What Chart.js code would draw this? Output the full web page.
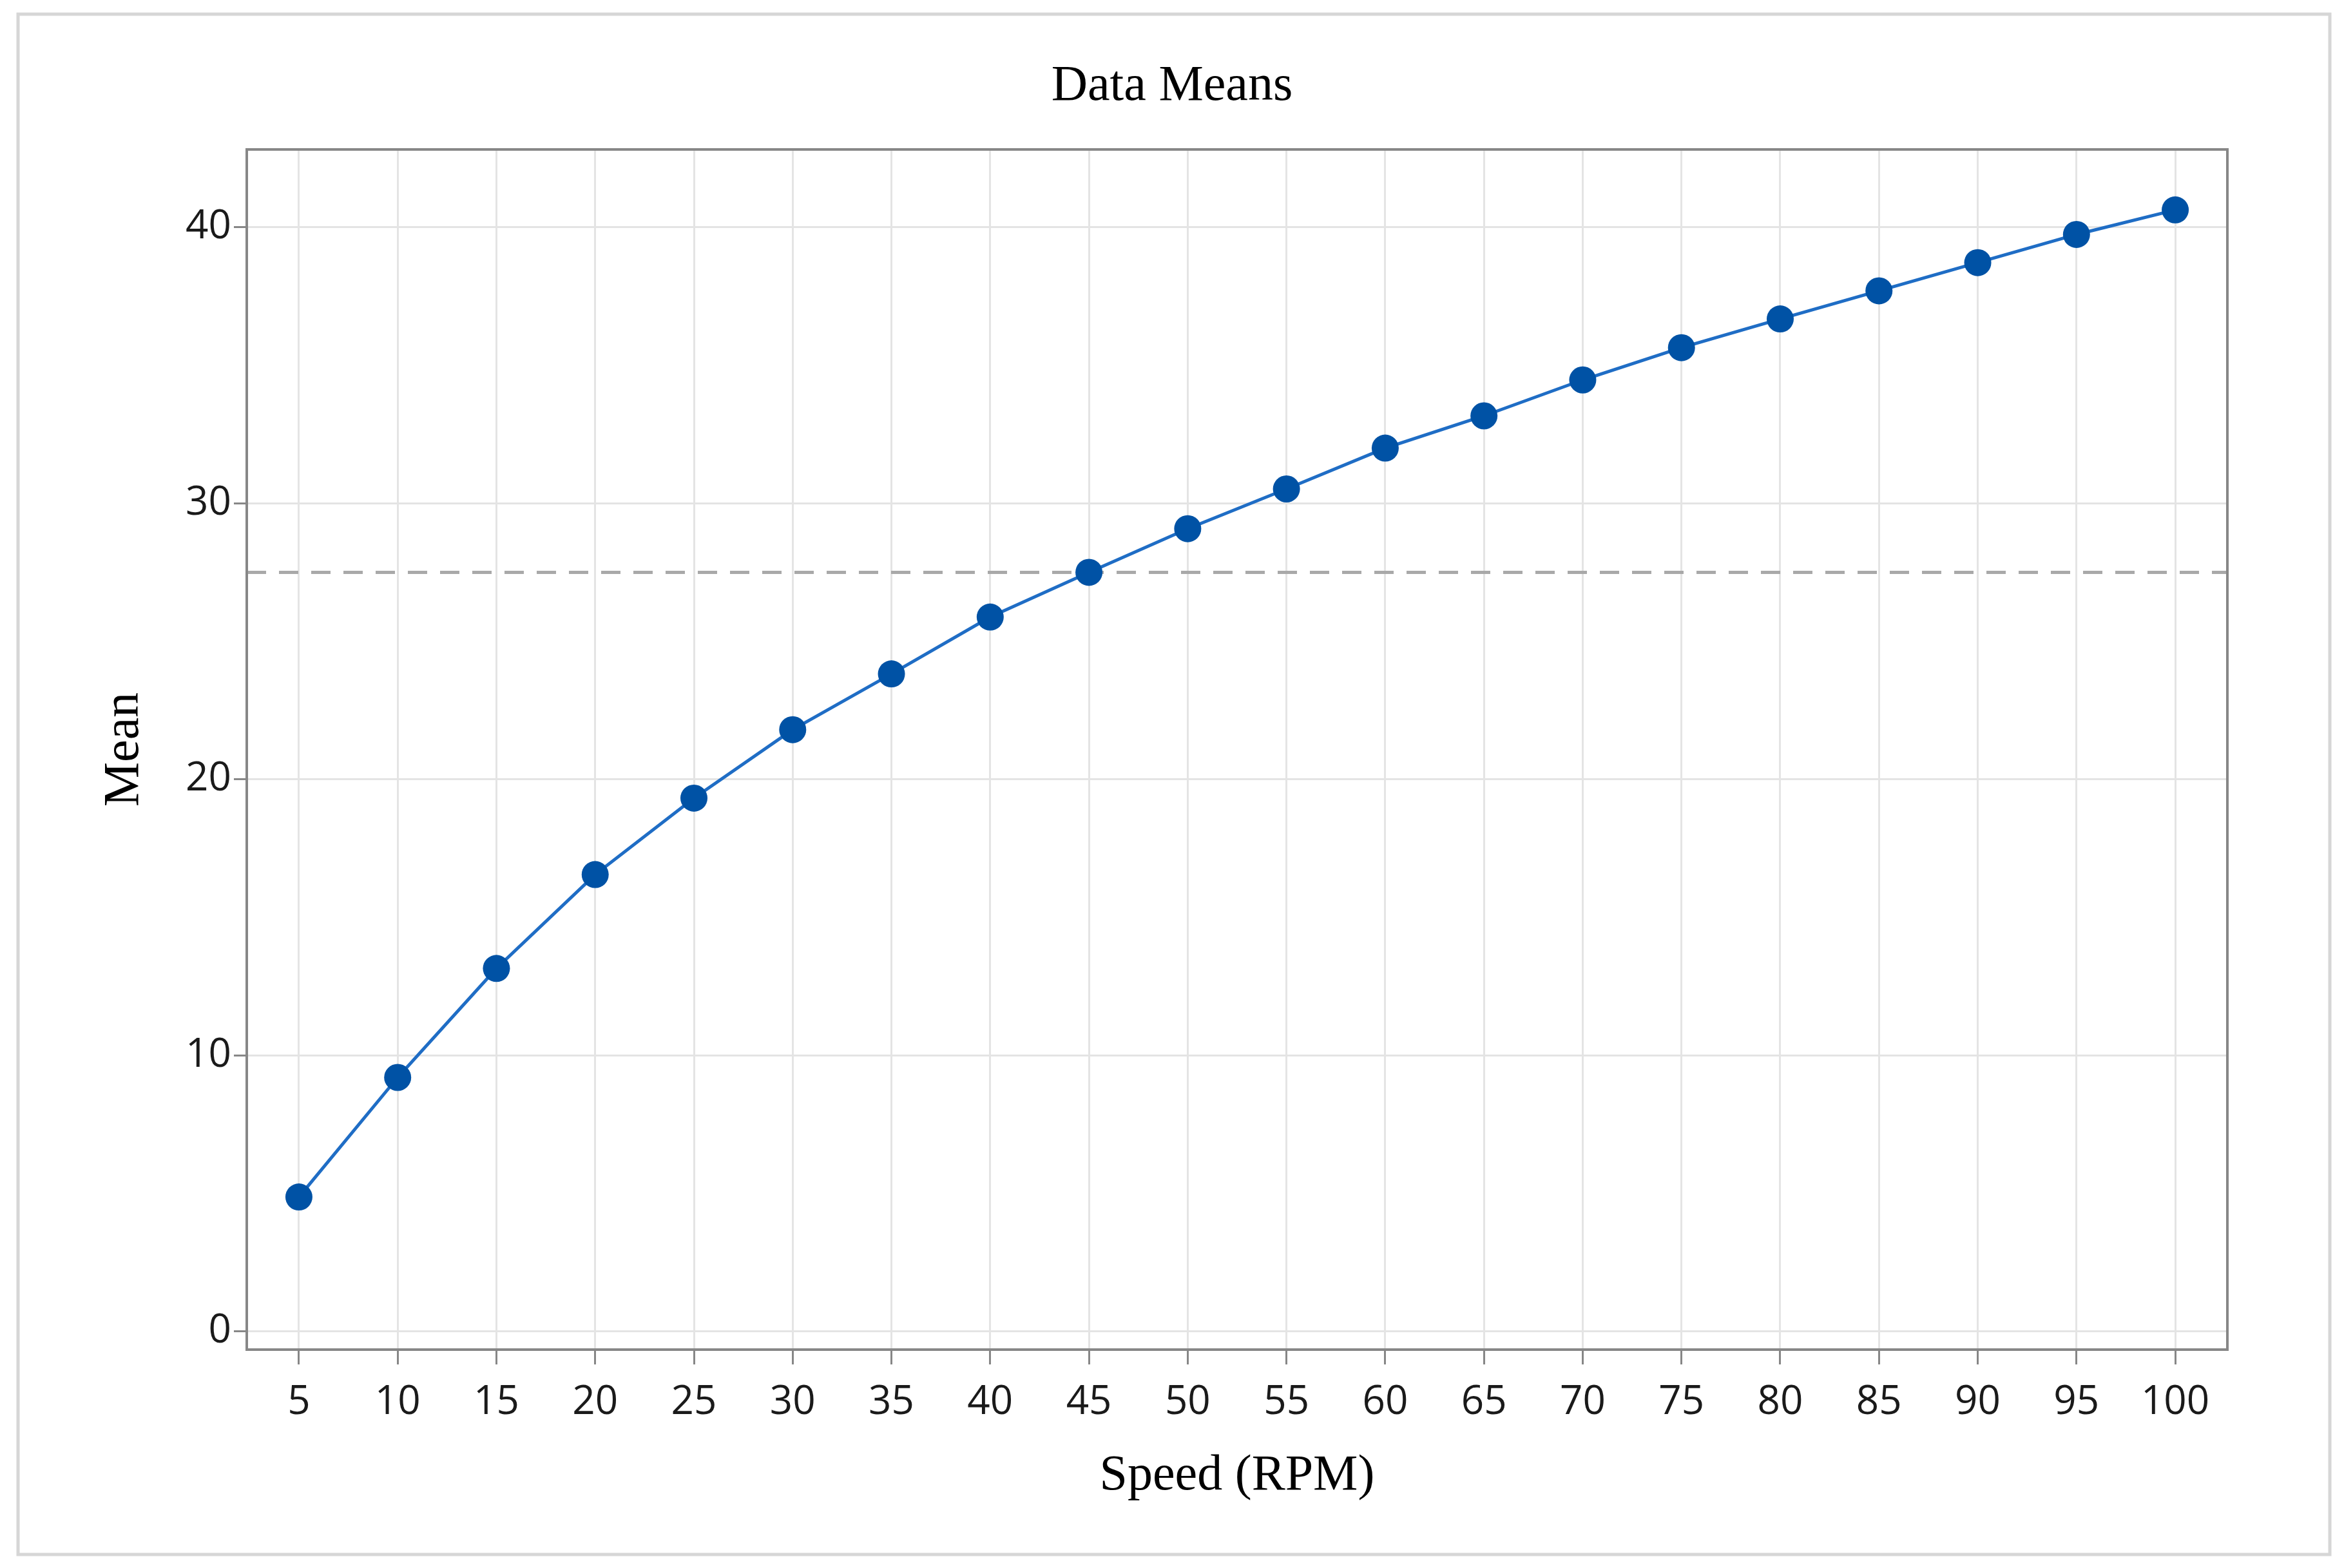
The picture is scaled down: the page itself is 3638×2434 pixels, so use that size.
<!DOCTYPE html>
<html>
<head>
<meta charset="utf-8">
<title>Data Means</title>
<script src="https://cdn.jsdelivr.net/npm/chart.js@4.4.1/dist/chart.umd.min.js"></script>
<style>
  html, body { margin: 0; padding: 0; background: #ffffff; }
  canvas { display: block; }
</style>
</head>
<body>
<canvas id="meansChart" width="3638" height="2434"></canvas>
<script>
// datos
const speeds = [5, 10, 15, 20, 25, 30, 35, 40, 45, 50, 55, 60, 65, 70, 75, 80, 85, 90, 95, 100];
const means = [4.87, 9.2, 13.15, 16.55, 19.32, 21.8, 23.82, 25.88, 27.5, 29.08,
               30.52, 32.0, 33.17, 34.47, 35.64, 36.68, 37.7, 38.72, 39.74, 40.63];
const meanTicks = [0, 10, 20, 30, 40];
const grandMean = 27.5;

// rango de ejes
const X_MIN = 2.36, X_MAX = 102.64;
const Y_MIN = -0.66, Y_MAX = 42.82;

const SERIF = '"Liberation Serif", "Times New Roman", serif';
const SANS = '"Open Sans", "Noto Sans", sans-serif';

// marco exterior y caja del area de trazado
const framePlugin = {
    id: 'framePlugin',
    beforeDraw(chart) {
        const ctx = chart.ctx;
        ctx.save();
        ctx.fillStyle = '#ffffff';
        ctx.fillRect(0, 0, chart.width, chart.height);
        ctx.strokeStyle = '#d6d6d6';
        ctx.lineWidth = 5;
        ctx.strokeRect(28, 22, chart.width - 28 - 22, chart.height - 22 - 21);
        ctx.restore();
    },
    afterDraw(chart) {
        const a = chart.chartArea;
        const ctx = chart.ctx;
        ctx.save();
        ctx.strokeStyle = '#878787';
        ctx.lineWidth = 4;
        ctx.strokeRect(a.left, a.top, a.right - a.left, a.bottom - a.top);
        ctx.restore();
    }
};

Chart.defaults.font.family = SANS;
Chart.defaults.color = '#1a1a1a';

const ctx = document.getElementById('meansChart').getContext('2d');
new Chart(ctx, {
    type: 'line',
    data: {
        datasets: [
            {
                label: 'Mean',
                data: speeds.map((s, i) => ({ x: s, y: means[i] })),
                borderColor: '#1f6dc5',
                borderWidth: 5,
                pointRadius: 21,
                pointBackgroundColor: '#0052a5',
                pointBorderColor: '#0052a5',
                pointBorderWidth: 0,
                tension: 0,
                order: 1
            },
            {
                label: 'Grand mean',
                data: [{ x: X_MIN, y: grandMean }, { x: X_MAX, y: grandMean }],
                borderColor: '#a9a9a9',
                borderWidth: 5,
                borderDash: [30, 20],
                pointRadius: 0,
                order: 2
            }
        ]
    },
    options: {
        responsive: false,
        devicePixelRatio: 1,
        animation: false,
        layout: { padding: 0 },
        plugins: {
            legend: { display: false },
            tooltip: { enabled: false },
            title: {
                display: true,
                text: 'Data Means',
                color: '#000000',
                font: { family: SERIF, size: 78, weight: 'normal', lineHeight: 1 },
                padding: { top: 96, bottom: 58 }
            }
        },
        scales: {
            x: {
                type: 'linear',
                min: X_MIN,
                max: X_MAX,
                afterBuildTicks: (axis) => { axis.ticks = speeds.map(v => ({ value: v })); },
                afterFit: (axis) => { axis.height = 339; },
                ticks: {
                    font: { size: 62 },
                    padding: 22,
                    maxRotation: 0,
                    autoSkip: false,
                    callback: (v) => String(v)
                },
                grid: {
                    color: '#e4e4e4',
                    lineWidth: 3,
                    tickLength: 23,
                    tickColor: '#878787',
                    tickWidth: 3
                },
                border: { display: false },
                title: {
                    display: true,
                    text: 'Speed (RPM)',
                    color: '#000000',
                    font: { family: SERIF, size: 78, weight: 'normal', lineHeight: 1 },
                    padding: { top: 0, bottom: 103 }
                }
            },
            y: {
                type: 'linear',
                min: Y_MIN,
                max: Y_MAX,
                afterBuildTicks: (axis) => { axis.ticks = meanTicks.map(v => ({ value: v })); },
                afterFit: (axis) => { axis.width = 383; },
                ticks: {
                    font: { size: 62 },
                    padding: 4,
                    callback: (v) => String(v)
                },
                grid: {
                    color: '#e4e4e4',
                    lineWidth: 3,
                    tickLength: 20,
                    tickColor: '#878787',
                    tickWidth: 3
                },
                border: { display: false },
                title: {
                    display: true,
                    text: 'Mean',
                    color: '#000000',
                    font: { family: SERIF, size: 78, weight: 'normal', lineHeight: 1 },
                    padding: { top: 155, bottom: 0 }
                }
            },
            // eje vacio a la derecha, solo reserva el margen
            margenDerecho: {
                type: 'linear',
                position: 'right',
                display: true,
                afterFit: (axis) => { axis.width = 181; },
                ticks: { display: false },
                grid: { display: false, drawTicks: false },
                border: { display: false }
            }
        }
    },
    plugins: [framePlugin]
});
</script>
</body>
</html>
